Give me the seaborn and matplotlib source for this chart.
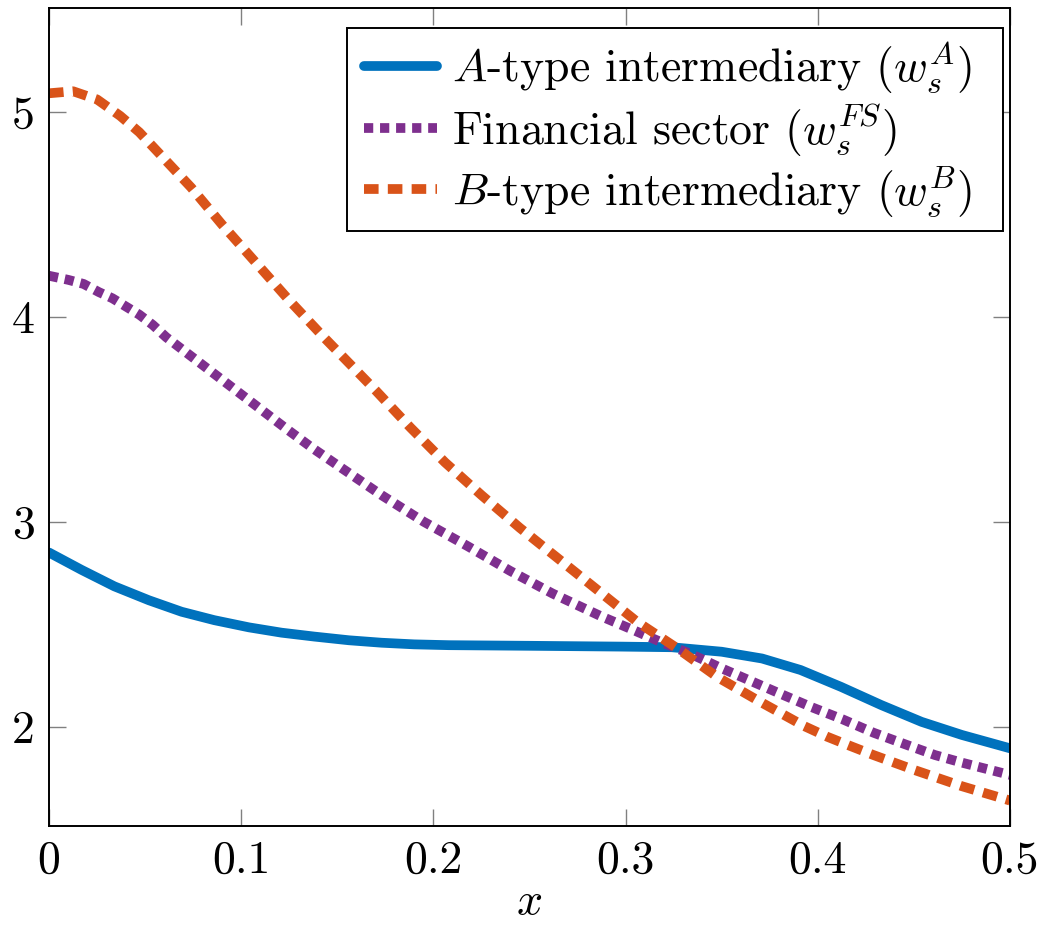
import numpy as np
import pandas as pd
import matplotlib
matplotlib.use("Agg")
import matplotlib.pyplot as plt
from matplotlib.patches import Rectangle
import seaborn as sns

# values (each curve has its own x readings)
x_a = [0.000, 0.017, 0.034, 0.052, 0.069, 0.086, 0.104, 0.121, 0.138, 0.156,
       0.173, 0.190, 0.208, 0.250, 0.298, 0.324, 0.350, 0.371, 0.391, 0.412,
       0.433, 0.454, 0.475, 0.500]
w_a = [2.850, 2.765, 2.685, 2.617, 2.561, 2.520, 2.485, 2.459, 2.440, 2.422,
       2.410, 2.402, 2.398, 2.395, 2.391, 2.388, 2.366, 2.333, 2.277, 2.195,
       2.106, 2.024, 1.960, 1.895]

x_fs = [0.000, 0.010, 0.018, 0.026, 0.033, 0.040, 0.047, 0.054, 0.061, 0.068,
        0.075, 0.082, 0.096, 0.110, 0.124, 0.137, 0.151, 0.173, 0.195, 0.218,
        0.240, 0.262, 0.287, 0.302, 0.318, 0.334, 0.350, 0.366, 0.382, 0.397,
        0.413, 0.429, 0.445, 0.461, 0.475, 0.500]
w_fs = [4.20, 4.18, 4.16, 4.12, 4.09, 4.05, 4.01, 3.96, 3.90, 3.85,
        3.80, 3.75, 3.65, 3.55, 3.45, 3.36, 3.27, 3.13, 3.00, 2.88,
        2.76, 2.65, 2.54, 2.48, 2.415, 2.355, 2.285, 2.22, 2.155, 2.095,
        2.036, 1.971, 1.916, 1.862, 1.825, 1.765]

x_b = [0.000, 0.0125, 0.025, 0.037, 0.047, 0.056, 0.065, 0.074, 0.090, 0.108,
       0.125, 0.143, 0.170, 0.188, 0.206, 0.225, 0.245, 0.265, 0.285, 0.306,
       0.327, 0.348, 0.370, 0.393, 0.405, 0.417, 0.429, 0.450, 0.475, 0.500]
w_b = [5.09, 5.10, 5.06, 4.98, 4.90, 4.81, 4.72, 4.63, 4.45, 4.26,
       4.08, 3.90, 3.64, 3.46, 3.29, 3.13, 2.97, 2.82, 2.67, 2.512,
       2.382, 2.241, 2.122, 2.003, 1.951, 1.906, 1.862, 1.79, 1.71, 1.64]

labels = [r"$A$-type intermediary ($w_s^A$)",
          r"Financial sector ($w_s^{FS}$)",
          r"$B$-type intermediary ($w_s^B$)"]

x_ticks = [0, 0.1, 0.2, 0.3, 0.4, 0.5]
x_ticklabels = ["0", "0.1", "0.2", "0.3", "0.4", "0.5"]
y_ticks = [2, 3, 4, 5]
y_ticklabels = ["2", "3", "4", "5"]

FS = 33

sns.set_theme(style="white")
plt.rcParams["font.family"] = ["cmr10"]
plt.rcParams["mathtext.fontset"] = "cm"
plt.rcParams["axes.formatter.use_mathtext"] = True
plt.rcParams["font.size"] = FS
plt.rcParams["text.color"] = "black"
plt.rcParams["axes.labelcolor"] = "black"

fig = plt.figure(figsize=(10.41, 9.26), dpi=100)
ax = fig.add_axes([49 / 1041, 1 - 826 / 926, 961 / 1041, 818 / 926])

df_a = pd.DataFrame({"x": x_a, "w": w_a})
df_fs = pd.DataFrame({"x": x_fs, "w": w_fs})
df_b = pd.DataFrame({"x": x_b, "w": w_b})

lw = 7
sns.lineplot(data=df_a, x="x", y="w", ax=ax, color="#0072BD", lw=lw,
             linestyle="-", label=labels[0])
sns.lineplot(data=df_fs, x="x", y="w", ax=ax, color="#7E2F8E", lw=lw,
             linestyle=(0, (0.95, 0.7)), label=labels[1])
sns.lineplot(data=df_b, x="x", y="w", ax=ax, color="#D95319", lw=lw,
             linestyle=(0, (1.5, 0.95)), label=labels[2])

ax.set_xlim(0, 0.5)
ax.set_ylim(1.516, 5.506)
ax.set_xticks(x_ticks)
ax.set_xticklabels(x_ticklabels)
ax.set_yticks(y_ticks)
ax.set_yticklabels(y_ticklabels)
ax.set_xlabel(r"$x$", fontsize=FS, labelpad=0, color="black")
ax.set_ylabel("")

ax.tick_params(direction="in", length=12.5, width=1.0, color="#808080",
               top=True, right=True, bottom=True, left=True, pad=10,
               labelsize=FS, labelcolor="black")
for s in ax.spines.values():
    s.set_color("black")
    s.set_linewidth(1.4)

# legend entries without frame; the box is drawn separately so its margins
# can be wider on the right like in the reference
leg = ax.legend(loc="upper left", bbox_to_anchor=(0.3158, 0.9756),
                borderaxespad=0, frameon=False, handlelength=1.6,
                handletextpad=0.33, labelspacing=0.14, borderpad=0.25,
                fontsize=FS)
for t in leg.get_texts():
    t.set_color("black")
ax.add_patch(Rectangle((0.3101, 0.7274), 0.9927 - 0.3101, 0.9756 - 0.7274,
                       transform=ax.transAxes, facecolor="white",
                       edgecolor="black", lw=1.4, zorder=4))
leg.set_zorder(5)

fig.savefig("out.png", dpi=100)
